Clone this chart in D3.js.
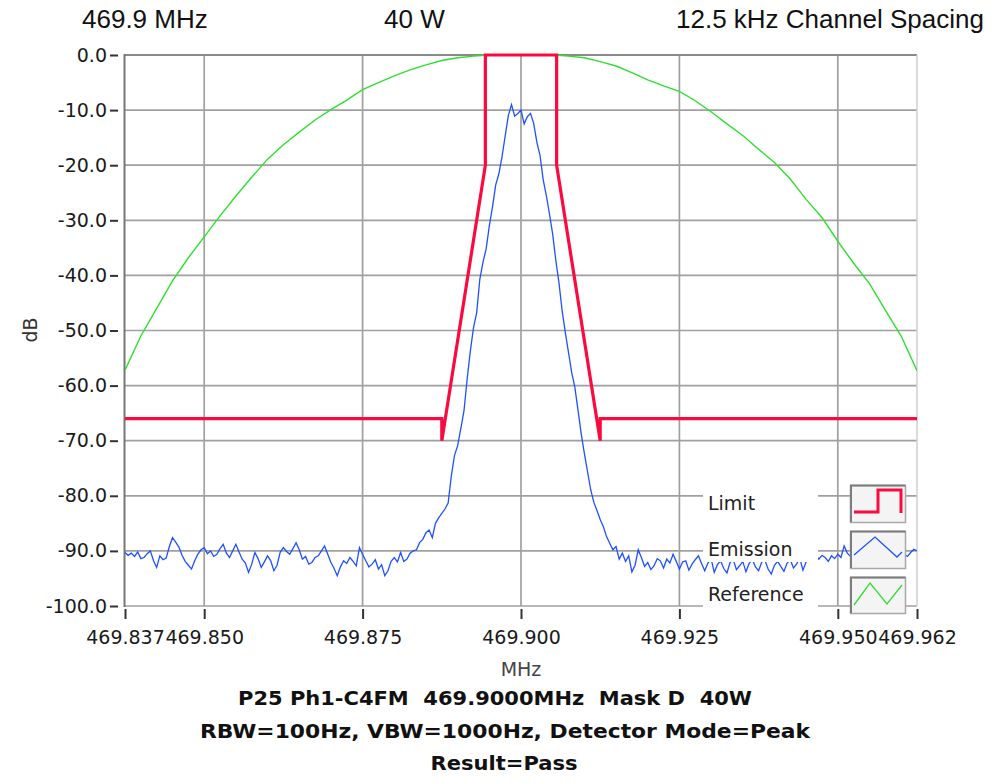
<!DOCTYPE html>
<html>
<head>
<meta charset="utf-8">
<script src="https://cdnjs.cloudflare.com/ajax/libs/d3/7.8.5/d3.min.js"></script>
<style>
  body { margin: 0; background: #fff; }
  text { font-family: "DejaVu Sans", sans-serif; }
</style>
</head>
<body>
<script>
// --- data ---
const centreMHz = 469.9;
const xTicks = [469.8375, 469.850, 469.875, 469.900, 469.925, 469.950, 469.9625];
const xTickLabels = ['469.837', '469.850', '469.875', '469.900', '469.925', '469.950', '469.962'];
const yTicks = [0, -10, -20, -30, -40, -50, -60, -70, -80, -90, -100];

// mask D limit (offset from centre, kHz)
const limitOffsetsKHz = [-62.5, -12.5, -12.5, -5.625, -5.625, 5.625, 5.625, 12.5, 12.5, 62.5];
const limitDb = [-66, -66, -70, -20, 0, 0, -20, -70, -66, -66];

// reference trace, one value every 2.5 kHz from -62.5 kHz
const refStartKHz = -62.5, refStepKHz = 2.5;
const referenceDb = [
  -57.2, -51.0, -46.0, -41.0, -36.8, -33.0, -29.2, -25.6, -22.2, -18.9,
  -16.3, -14.0, -11.8, -9.9, -8.2, -6.3, -5.0, -3.8, -2.7, -1.8,
  -1.0, -0.5, -0.2, 0, 0, 0, 0, 0, -0.2, -0.5,
  -1.2, -2.0, -3.2, -4.5, -5.6, -6.6, -8.3, -10.3, -12.5, -14.6,
  -17.1, -19.5, -22.5, -26.2, -29.5, -33.8, -37.8, -41.5, -46.3, -51.0,
  -57.3
];

// emission trace, one value every 0.5 kHz from -62.5 kHz
const emStartKHz = -62.5, emStepKHz = 0.5;
const emissionDb = [
  -90.3, -90.8, -90.4, -91.0, -90.2, -91.4, -91.2, -90.5, -90.0, -91.8,
  -93.0, -90.9, -91.6, -91.3, -89.2, -87.6, -88.4, -89.3, -90.8, -91.9,
  -92.6, -93.3, -91.8, -90.6, -89.8, -89.4, -90.5, -90.0, -91.0, -90.6,
  -89.6, -88.8, -90.4, -91.2, -90.0, -88.8, -90.2, -91.5, -92.2, -93.9,
  -92.4, -90.3, -91.4, -93.0, -92.0, -90.9, -91.8, -93.6, -92.6, -90.2,
  -89.4, -90.1, -90.6, -89.6, -88.5, -89.8, -91.5, -91.0, -92.4, -92.1,
  -91.2, -90.9, -90.0, -89.1, -90.6, -92.1, -93.2, -94.5, -92.9, -91.8,
  -92.3, -91.2, -91.9, -92.7, -89.4, -90.6, -91.8, -92.9, -92.4, -91.6,
  -93.3, -92.5, -94.5, -93.6, -91.9, -91.2, -92.0, -90.3, -91.9, -91.5,
  -90.4, -90.0, -89.8, -88.5, -87.9, -86.7, -86.2, -87.6, -85.0, -84.0,
  -83.2, -82.4, -81.3, -76.4, -72.7, -70.9, -67.8, -64.6, -58.8, -53.8,
  -49.5, -46.8, -40.7, -37.6, -35.2, -31.0, -27.6, -23.6, -21.6, -18.5,
  -14.7, -11.0, -9.0, -11.1, -10.6, -10.0, -12.5, -11.2, -10.6, -12.4,
  -15.8, -18.2, -22.6, -25.5, -28.9, -32.5, -37.3, -41.4, -46.5, -50.4,
  -54.0, -57.6, -60.3, -64.5, -68.7, -72.3, -75.6, -78.9, -81.2, -82.7,
  -84.3, -85.6, -87.4, -88.6, -89.8, -89.2, -91.5, -90.4, -91.9, -90.9,
  -93.8, -92.6, -89.8, -91.2, -92.8, -92.1, -93.4, -92.7, -91.4, -91.8,
  -93.1, -91.5, -92.2, -90.6, -91.9, -93.3, -92.0, -91.8, -93.5, -92.4,
  -91.6, -90.9, -92.3, -93.6, -92.2, -91.4, -93.9, -92.5, -91.8, -93.2,
  -94.0, -92.1, -91.6, -93.4, -92.7, -91.9, -93.8, -92.3, -91.5, -92.9,
  -93.6, -92.0, -91.7, -93.3, -94.2, -92.6, -91.9, -92.8, -93.7, -92.2,
  -91.6, -93.1, -92.4, -91.3, -93.5, -92.0, -91.1, -91.8, -90.7, -91.5,
  -90.8, -91.2, -91.9, -90.9, -91.4, -90.6, -91.2, -89.1, -90.4, -91.0,
  -90.2, -91.3, -90.5, -89.8, -90.9, -91.6, -90.3, -89.6, -90.8, -91.4,
  -90.1, -89.5, -90.7, -91.2, -90.0, -89.3, -90.6, -91.0, -90.3, -89.7,
  -90.0
];

const headerTexts = ['469.9 MHz', '40 W', '12.5 kHz Channel Spacing'];
const footerLines = ['P25 Ph1-C4FM  469.9000MHz  Mask D  40W',
                     'RBW=100Hz, VBW=1000Hz, Detector Mode=Peak',
                     'Result=Pass'];
const legendNames = ['Limit', 'Emission', 'Reference'];

// --- layout ---
const W = 993, H = 783;
const plot = { left: 125, right: 917, top: 55, bottom: 606 };
const colors = { limit: '#fb0a3f', emission: '#1e50ff', reference: '#2fe02f' };

const x = d3.scaleLinear().domain([469.8375, 469.9625]).range([plot.left, plot.right]);
const y = d3.scaleLinear().domain([-100, 0]).range([plot.bottom, plot.top]);
const fromKHz = k => centreMHz + k / 1000;

const svg = d3.select('body').append('svg')
  .attr('width', W).attr('height', H);

svg.append('defs').append('clipPath').attr('id', 'clip')
  .append('rect')
  .attr('x', plot.left).attr('y', plot.top - 2)
  .attr('width', plot.right - plot.left).attr('height', plot.bottom - plot.top + 4);

// header
const headerX = [82, 384, 676];
svg.selectAll('text.header').data(headerTexts).enter().append('text')
  .attr('class', 'header')
  .attr('x', (d, i) => headerX[i]).attr('y', 28)
  .style('font-family', '"Liberation Sans", Arial, sans-serif')
  .style('font-size', '26px')
  .attr('fill', '#111')
  .text(d => d);

// grid
const grid = svg.append('g');
grid.selectAll('line.h').data(yTicks).enter().append('line')
  .attr('x1', plot.left).attr('x2', plot.right)
  .attr('y1', d => y(d)).attr('y2', d => y(d))
  .attr('stroke', '#a0a0a0').attr('stroke-width', 1.7);
grid.selectAll('line.v').data(xTicks.slice(1, -1)).enter().append('line')
  .attr('y1', plot.top).attr('y2', plot.bottom)
  .attr('x1', d => x(d)).attr('x2', d => x(d))
  .attr('stroke', '#a0a0a0').attr('stroke-width', 1.7);

// frame
svg.append('line').attr('x1', plot.left).attr('x2', plot.right)
  .attr('y1', plot.top).attr('y2', plot.top)
  .attr('stroke', '#8a8a8a').attr('stroke-width', 2);
svg.append('line').attr('x1', plot.right).attr('x2', plot.right)
  .attr('y1', plot.top).attr('y2', plot.bottom)
  .attr('stroke', '#cfcfcf').attr('stroke-width', 1.5);
svg.append('line').attr('x1', plot.left - 0.5).attr('x2', plot.left - 0.5)
  .attr('y1', plot.top - 1).attr('y2', plot.bottom + 1)
  .attr('stroke', '#777').attr('stroke-width', 2);

// axes
const yAxis = svg.append('g')
  .attr('transform', 'translate(118,0)')
  .call(d3.axisLeft(y).tickValues(yTicks).tickFormat(d => d.toFixed(1))
    .tickSize(8).tickPadding(3));
yAxis.select('.domain').remove();
yAxis.selectAll('line').attr('stroke', '#333').attr('stroke-width', 2);
yAxis.selectAll('text').style('font-size', '19px').attr('fill', '#1a1a1a')
  .style('font-family', '"DejaVu Sans", sans-serif');

const xAxis = svg.append('g')
  .attr('transform', 'translate(0,609)')
  .call(d3.axisBottom(x).tickValues(xTicks).tickFormat((d, i) => xTickLabels[i])
    .tickSize(10).tickPadding(12));
xAxis.select('.domain').remove();
xAxis.selectAll('line').attr('stroke', '#333').attr('stroke-width', 2);
xAxis.selectAll('text').style('font-size', '19px').attr('fill', '#1a1a1a')
  .style('font-family', '"DejaVu Sans", sans-serif');

// axis titles
svg.append('text').attr('x', 521).attr('y', 676).attr('text-anchor', 'middle')
  .style('font-size', '19px').attr('fill', '#444').text('MHz');
svg.append('text').attr('transform', 'translate(37,330) rotate(-90)')
  .attr('text-anchor', 'middle')
  .style('font-size', '19px').attr('fill', '#333').text('dB');

// traces
const traces = svg.append('g').attr('clip-path', 'url(#clip)');

const refLine = d3.line()
  .x((d, i) => x(fromKHz(refStartKHz + i * refStepKHz)))
  .y(d => y(d));
traces.append('path').datum(referenceDb)
  .attr('d', refLine).attr('fill', 'none')
  .attr('stroke', colors.reference).attr('stroke-width', 1.4);

const emLine = d3.line()
  .x((d, i) => x(fromKHz(emStartKHz + i * emStepKHz)))
  .y(d => y(d));
traces.append('path').datum(emissionDb)
  .attr('d', emLine).attr('fill', 'none')
  .attr('stroke', colors.emission).attr('stroke-width', 1.3);

const limLine = d3.line()
  .x((d, i) => x(fromKHz(limitOffsetsKHz[i])))
  .y(d => y(d));
traces.append('path').datum(limitDb)
  .attr('d', limLine).attr('fill', 'none')
  .attr('stroke', colors.limit).attr('stroke-width', 3.2)
  .attr('stroke-linejoin', 'miter');

// legend
const legendRows = [
  { box: [484, 512], base: 510, icon: [485, 522] },
  { box: [537, 562], base: 556, icon: [531, 568] },
  { box: [577, 608], base: 601, icon: [577, 613] }
];
const legend = svg.append('g');
legend.selectAll('rect.lab').data(legendRows).enter().append('rect')
  .attr('x', 703).attr('width', 115)
  .attr('y', d => d.box[0]).attr('height', d => d.box[1] - d.box[0])
  .attr('fill', '#fff');
legend.selectAll('text.lab').data(legendNames).enter().append('text')
  .attr('x', 708).attr('y', (d, i) => legendRows[i].base)
  .style('font-size', '19px').attr('fill', '#222').text(d => d);
legend.selectAll('rect.icon').data(legendRows).enter().append('rect')
  .attr('x', 850.5).attr('width', 55)
  .attr('y', d => d.icon[0] + 0.5).attr('height', d => d.icon[1] - d.icon[0])
  .attr('fill', '#f4f4f4').attr('stroke', '#a8a8a8').attr('stroke-width', 1.5);
legend.selectAll('path.edge').data(legendRows).enter().append('path')
  .attr('d', d => `M851,${d.icon[1]}V${d.icon[0] + 0.5}H905.5`)
  .attr('fill', 'none').attr('stroke', '#7c7c7c').attr('stroke-width', 2);

const iconPaths = [
  'M854,512H878V490H901V513',
  'M854,555L875,537L897,557L902,552',
  'M854,605L870,583L887,604L902,585'
];
const iconColors = [colors.limit, colors.emission, colors.reference];
const iconWidths = [3, 1.3, 1.3];
legend.selectAll('path.icon').data(iconPaths).enter().append('path')
  .attr('d', d => d).attr('fill', 'none')
  .attr('stroke', (d, i) => iconColors[i])
  .attr('stroke-width', (d, i) => iconWidths[i]);

// footer
const footerY = [705, 738, 770];
const footerLen = [514, 610, 147];
const footerCx = [495, 505, 504];
svg.selectAll('text.footer').data(footerLines).enter().append('text')
  .attr('x', (d, i) => footerCx[i]).attr('y', (d, i) => footerY[i])
  .attr('text-anchor', 'middle')
  .attr('textLength', (d, i) => footerLen[i])
  .attr('lengthAdjust', 'spacingAndGlyphs')
  .style('white-space', 'pre')
  .style('font-size', '19px').style('font-weight', 'bold')
  .attr('fill', '#111')
  .text(d => d);
</script>
</body>
</html>
